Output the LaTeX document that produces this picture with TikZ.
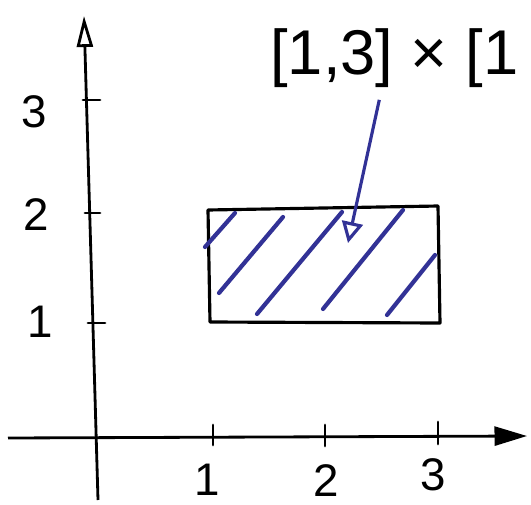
\documentclass[tikz,border=0pt]{standalone}
\usepackage{fontspec}
\setmainfont{Liberation Sans}
\usetikzlibrary{arrows.meta}
\usetikzlibrary{calc}
\definecolor{penblue}{RGB}{50,50,150}
\tikzset{
    axisline/.style={line width=1.6pt, draw=black},
    tickmark/.style={line width=1.6pt, draw=black, line cap=round},
    setedge/.style={line width=1.8pt, draw=black, line join=round},
    hatchline/.style={line width=2.4pt, draw=penblue, line cap=round},
    pointer/.style={line width=1.8pt, draw=penblue,
        -{Triangle[open, length=0.42cm, width=0.42cm]}},
    ticklabel/.style={font=\fontsize{26}{28}\selectfont, text=black, inner sep=0pt},
    biglabel/.style={font=\fontsize{36}{40}\selectfont, text=black, inner sep=0pt}
}

\begin{document}
\begin{tikzpicture}[x=0.02cm, y=-0.02cm]
    \useasboundingbox (0,0) rectangle (531,504);

    % =========================================================================
    % AXES
    % =========================================================================
    \draw[axisline, -{Triangle[open, length=0.62cm, width=0.32cm]}] (98,500) -- (84,16);
    \draw[axisline, -{Triangle[length=0.65cm, width=0.38cm]}] (8,438) -- (527,436);

    % Tick marks
    \foreach \y/\xa/\xb in {100/83/100, 213/85/100, 323/88/105}
        \draw[tickmark] (\xa,\y) -- (\xb,\y);
    \foreach \x/\ya/\yb in {213/425/445, 325/425/446, 438/422/444}
        \draw[tickmark] (\x,\ya) -- (\x,\yb);

    % Tick labels
    \node[ticklabel] (ythree) at (34,112) {3};
    \node[ticklabel] (ytwo)   at (36,215) {2};
    \node[ticklabel] (yone)   at (40,322) {1};
    \node[ticklabel] (xone)   at (207,480) {1};
    \node[ticklabel] (xtwo)   at (326,481) {2};
    \node[ticklabel] (xthree) at (433,475) {3};

    % =========================================================================
    % THE SET: rectangle with hatching
    % =========================================================================
    \draw[setedge] (208,210) -- (438,206) -- (440,323) -- (210,322) -- cycle;

    \foreach \xa/\ya/\xb/\yb in {205/247/235/213, 219/293/283/217, 257/314/342/212,
                                 323/309/403/210, 387/315/435/255}
        \draw[hatchline] (\xa,\ya) -- (\xb,\yb);

    % =========================================================================
    % LABEL with pointer into the set
    % =========================================================================
    \node[biglabel, anchor=west] (prodlabel) at (270,58) {[1,3] × [1};
    \coordinate (tip) at (348,243);
    \draw[pointer] ($(prodlabel.south)+(-15,12)$) -- (tip);
\end{tikzpicture}
\end{document}
